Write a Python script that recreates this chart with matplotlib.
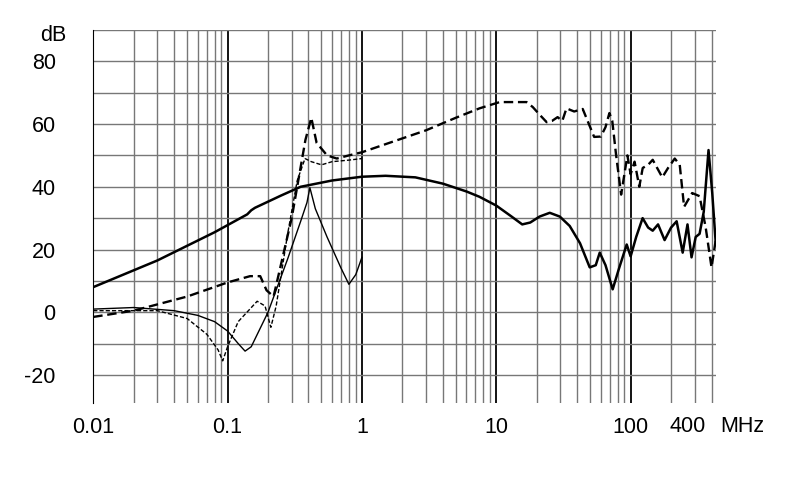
import matplotlib.pyplot as plt
from matplotlib.ticker import FixedLocator, NullFormatter

plt.rcParams["font.family"] = ["Liberation Sans", "DejaVu Sans"]
plt.rcParams["axes.unicode_minus"] = False

# thick solid curve (MHz, dB)
solid_f = [0.01, 0.03, 0.08, 0.14, 0.15, 0.16, 0.25, 0.35, 0.6, 1.0, 1.5, 2.5, 4, 6, 7.5,
           10, 13, 15.6, 17.9, 21, 25, 29.7, 35.2, 42, 49.6, 55, 58.9, 65, 73.5, 82,
           93.5, 100, 110, 122.8, 135, 146, 160, 179, 200, 220, 244, 265, 284, 305,
           326, 350, 380, 405, 430]
solid_db = [8, 16.5, 25.5, 31.2, 32.5, 33.3, 37.2, 40, 42, 43.2, 43.5, 43, 41, 38.5, 36.8,
            34, 30.5, 28, 28.6, 30.5, 31.7, 30.5, 27.5, 22, 14.3, 15, 19, 15, 7.3, 14,
            21.6, 17.8, 24, 30, 27, 26, 28, 23, 27, 29, 19, 28, 17.5, 24,
            25, 32, 51.7, 38, 22]

# thick dashed curve
dash_f = [0.01, 0.02, 0.05, 0.1, 0.147, 0.175, 0.195, 0.22, 0.3, 0.38, 0.42, 0.46, 0.55,
          0.65, 0.8, 1.0, 1.6, 3, 5, 7.5, 10.6, 13.2, 16.8, 18.7, 21, 23.7, 26, 28.6,
          31, 33.3, 38, 44, 53.5, 60, 65, 69.5, 73, 78, 85, 94.6, 100, 107, 116, 123,
          135, 146, 172, 190, 213, 232, 250, 287, 326, 362, 400, 430]
dash_db = [-1.5, 0.5, 5, 9.5, 11.5, 11.5, 7, 5, 30, 55, 62, 54, 50,
           49, 50, 51, 54, 58, 62, 65, 67, 67, 67, 65.4, 63, 60.6, 61, 62.2,
           61, 65, 64, 64.8, 55.9, 56, 59, 63.5, 61, 50, 37.5, 50, 44, 48, 40, 46,
           47, 48.6, 43, 46, 49, 47, 33.6, 38, 37, 27, 14.3, 23]

# thin dashed curve
tdash_f = [0.01, 0.03, 0.05, 0.07, 0.085, 0.092, 0.1, 0.12, 0.166, 0.19, 0.21, 0.23,
           0.28, 0.33, 0.377, 0.42, 0.5, 0.6, 0.8, 1.0]
tdash_db = [0.5, 0.5, -2, -7, -12, -15.5, -11, -3, 3.5, 2, -4.8, 2,
            25, 42, 49, 48, 47, 48, 48.5, 49]

# thin solid curve
thin_f = [0.01, 0.02, 0.04, 0.06, 0.08, 0.1, 0.12, 0.135, 0.15, 0.2, 0.28, 0.35, 0.39,
          0.41, 0.45, 0.55, 0.7, 0.8, 0.9, 1.0]
thin_db = [1, 1.5, 0.5, -1, -3, -6, -10, -12.4, -11, 0, 17, 29, 35,
           39.7, 33, 24, 14, 8.9, 12, 17.5]

fig = plt.figure(figsize=(7.9, 4.99), dpi=100)
ax = fig.add_axes([0.118, 0.192, 0.788, 0.748])
ax.set_xscale("log")
ax.set_xlim(0.01, 430)
ax.set_ylim(-29, 90)

minor = [m * 10.0 ** e for e in range(-2, 3) for m in range(2, 10) if m * 10.0 ** e <= 430]
for x in minor:
    ax.axvline(x, color="#777777", lw=1.0, zorder=1)
for x in [0.1, 1, 10, 100]:
    ax.axvline(x, color="black", lw=1.3, zorder=1)
for y in range(-20, 91, 10):
    ax.axhline(y, color="#777777", lw=1.0, zorder=1)

ax.plot(solid_f, solid_db, color="black", lw=1.8, zorder=3)
ax.plot(dash_f, dash_db, color="black", lw=1.7, dashes=(4, 2), zorder=3)
ax.plot(tdash_f, tdash_db, color="black", lw=1.0, dashes=(3, 1.5), zorder=3)
ax.plot(thin_f, thin_db, color="black", lw=1.0, zorder=3)

ax.xaxis.set_major_locator(FixedLocator([0.01, 0.1, 1, 10, 100]))
ax.xaxis.set_minor_formatter(NullFormatter())
ax.xaxis.set_minor_locator(FixedLocator([]))
ax.set_xticklabels(["0.01", "0.1", "1", "10", "100"])
ax.set_yticks([-20, 0, 20, 40, 60, 80])
ax.tick_params(length=0, labelsize=15.5, pad=10)
ax.tick_params(axis="y", pad=27)
ax.text(0.955, -0.0345, "400", transform=ax.transAxes, fontsize=15.5, va="top", ha="center")
ax.text(1.007, -0.0345, "MHz", transform=ax.transAxes, fontsize=15.5, va="top", ha="left")
ax.text(-0.085, 0.985, "dB", transform=ax.transAxes, fontsize=15.5, va="center", ha="left")

for s in ["top", "right", "bottom"]:
    ax.spines[s].set_visible(False)
ax.spines["left"].set_color("black")

fig.savefig("out.png", dpi=100)
